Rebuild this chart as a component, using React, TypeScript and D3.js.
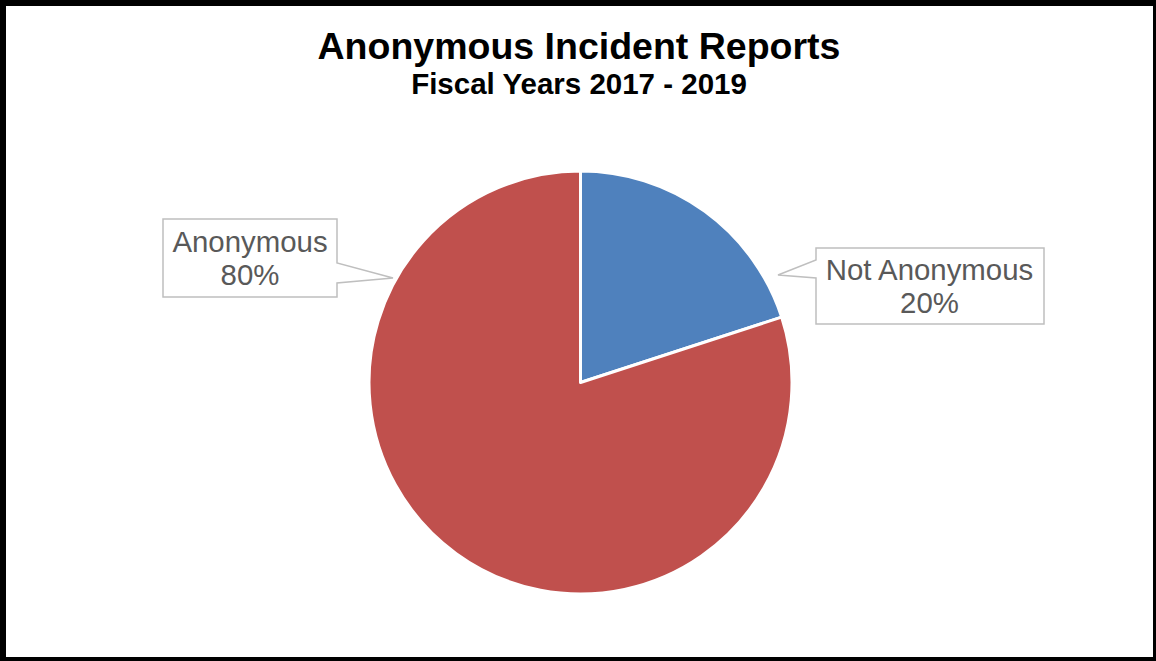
import React from "react";
import * as d3 from "d3";

const categories = ["Not Anonymous", "Anonymous"];
const values = [20, 80];
const colors = ["#4F81BD", "#C0504D"];
const title = "Anonymous Incident Reports";
const subtitle = "Fiscal Years 2017 - 2019";

const W = 1156;
const H = 661;
const cx = 580.5;
const cy = 382.5;
const R = 211.5;
const FONT = "'Liberation Sans', Arial, Helvetica, sans-serif";

// callout layouts (box + pointer) per category
const callouts = [
  { box: [816, 248, 1044, 324], side: "left", base: [260, 278], tip: [778, 275], tx: 929.5, ty: [280, 313] },
  { box: [163, 219, 337, 297], side: "right", base: [263, 283], tip: [393, 278], tx: 250, ty: [252, 285] },
];

function calloutPath(c: any) {
  const [x0, y0, x1, y1] = c.box;
  if (c.side === "right") {
    return `M${x0},${y0}H${x1}V${c.base[0]}L${c.tip[0]},${c.tip[1]}L${x1},${c.base[1]}V${y1}H${x0}Z`;
  }
  return `M${x0},${y0}H${x1}V${y1}H${x0}V${c.base[1]}L${c.tip[0]},${c.tip[1]}L${x0},${c.base[0]}Z`;
}

export default function App() {
  const total = d3.sum(values);
  const pie = d3.pie<number>().sort(null).value((d) => d)(values);
  const arc = d3.arc<d3.PieArcDatum<number>>().innerRadius(0).outerRadius(R);
  const fmt = d3.format(".0%");

  return (
    <svg
      width={W}
      height={H}
      style={{ position: "absolute", left: 0, top: 0, display: "block", background: "#fff" }}
    >
      <rect x={0} y={0} width={W} height={H} fill="#000" />
      <rect x={6} y={6} width={1147} height={651} fill="#fff" />
      <text x={579} y={59} textAnchor="middle" fontFamily={FONT} fontWeight="bold" fontSize={37.5} fill="#000">
        {title}
      </text>
      <text x={579} y={94} textAnchor="middle" fontFamily={FONT} fontWeight="bold" fontSize={29.5} fill="#000">
        {subtitle}
      </text>
      <g transform={`translate(${cx},${cy})`}>
        {pie.map((p, i) => (
          <path key={i} d={arc(p) || ""} fill={colors[i]} stroke="#fff" strokeWidth={3} strokeLinejoin="round" />
        ))}
      </g>
      {categories.map((cat, i) => {
        const c = callouts[i];
        return (
          <g key={cat}>
            <path d={calloutPath(c)} fill="#fff" stroke="#BFBFBF" strokeWidth={1.5} />
            <text x={c.tx} y={c.ty[0]} textAnchor="middle" fontFamily={FONT} fontSize={29.4} fill="#595959">
              {cat}
            </text>
            <text x={c.tx} y={c.ty[1]} textAnchor="middle" fontFamily={FONT} fontSize={29.4} fill="#595959">
              {fmt(values[i] / total)}
            </text>
          </g>
        );
      })}
    </svg>
  );
}
